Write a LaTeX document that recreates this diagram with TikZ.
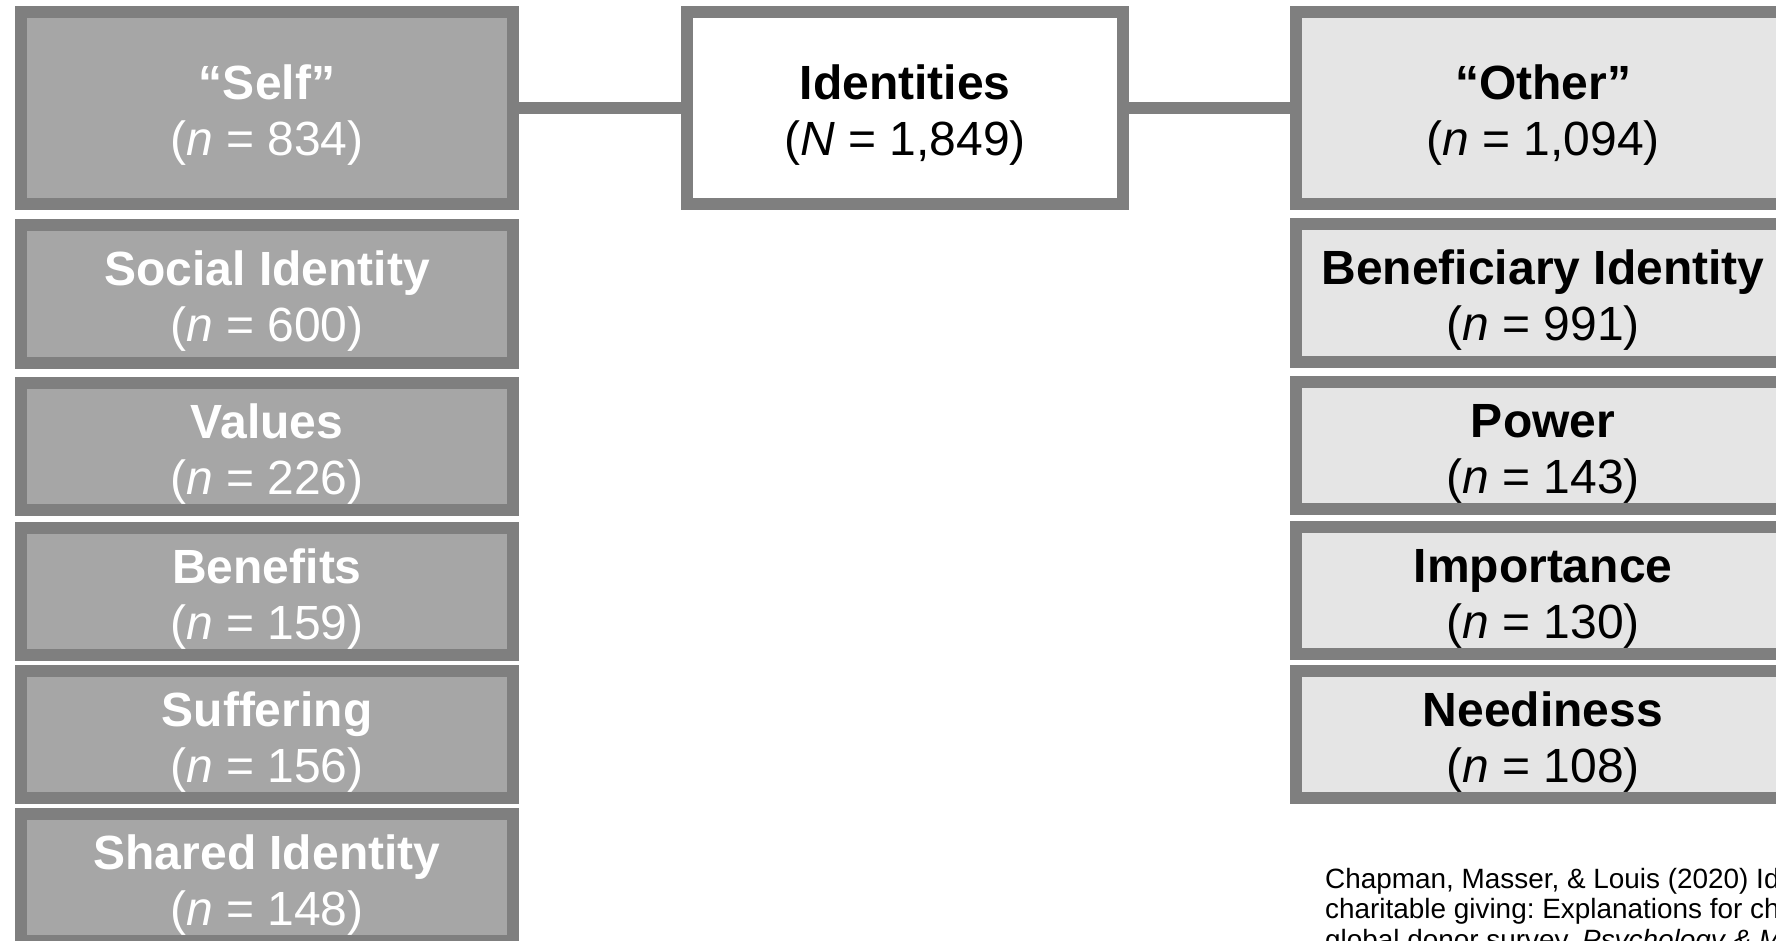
\documentclass[tikz,border=0pt]{standalone}
\usepackage{fontspec}
\setmainfont{Liberation Sans}
\frenchspacing
\definecolor{edgegray}{HTML}{7F7F7F}
\definecolor{selffill}{HTML}{A6A6A6}
\definecolor{otherfill}{HTML}{E5E5E5}
% two-line category label: bold name over the count
\newcommand{\catlabel}[3]{\rule{0pt}{49pt}\textbf{#1}\\(\textit{#2} = #3)}
\begin{document}
\begin{tikzpicture}[x=1pt,y=-1pt,
  catbox/.style={draw=edgegray, line width=12pt, rectangle, outer sep=0pt,
    inner sep=0pt, align=center, font=\fontsize{48}{56}\selectfont},
  selfbox/.style={catbox, fill=selffill, text=white, minimum width=492pt},
  otherbox/.style={catbox, fill=otherfill, text=black, minimum width=494pt},
  rootbox/.style={catbox, fill=white, text=black, minimum width=436pt},
  link/.style={draw=edgegray, line width=12pt},
  citetext/.style={anchor=north west, inner sep=0pt, align=left,
    font=\fontsize{27.9}{30.5}\selectfont}]
\useasboundingbox (0,0) rectangle (1776,941);
\clip (0,0) rectangle (1776,941);
\fill[white] (0,0) rectangle (1776,941);

% root
\node[rootbox, minimum height=192pt] (ident) at (905,108) {\catlabel{Identities}{N}{1,849}};

% "Self" column
\node[selfbox, minimum height=192pt] (self)     at (267,108)   {\catlabel{“Self”}{n}{834}};
\node[selfbox, minimum height=138pt] (social)   at (267,294)   {\catlabel{Social Identity}{n}{600}};
\node[selfbox, minimum height=127pt] (values)   at (267,446.5) {\catlabel{Values}{n}{226}};
\node[selfbox, minimum height=127pt] (benefits) at (267,591.5) {\catlabel{Benefits}{n}{159}};
\node[selfbox, minimum height=127pt] (suffer)   at (267,734.5) {\catlabel{Suffering}{n}{156}};
\node[selfbox, minimum height=127pt] (shared)   at (267,877.5) {\catlabel{Shared Identity}{n}{148}};

% "Other" column
\node[otherbox, minimum height=192pt] (other)  at (1543,108)   {\catlabel{“Other”}{n}{1,094}};
\node[otherbox, minimum height=138pt] (benef)  at (1543,293)   {\catlabel{Beneficiary Identity}{n}{991}};
\node[otherbox, minimum height=127pt] (power)  at (1543,445.5) {\catlabel{Power}{n}{143}};
\node[otherbox, minimum height=127pt] (import) at (1543,590.5) {\catlabel{Importance}{n}{130}};
\node[otherbox, minimum height=127pt] (needy)  at (1543,734.5) {\catlabel{Neediness}{n}{108}};

% connectors
\draw[link] (self.east) -- (ident.west);
\draw[link] (ident.east) -- (other.west);

% source
\node[citetext] (cite) at (1325,868) {Chapman, Masser, \& Louis (2020) Identity motives in\\
charitable giving: Explanations for charity preferences from a\\
global donor survey. \textit{Psychology \& Marketing}};
\end{tikzpicture}
\end{document}
